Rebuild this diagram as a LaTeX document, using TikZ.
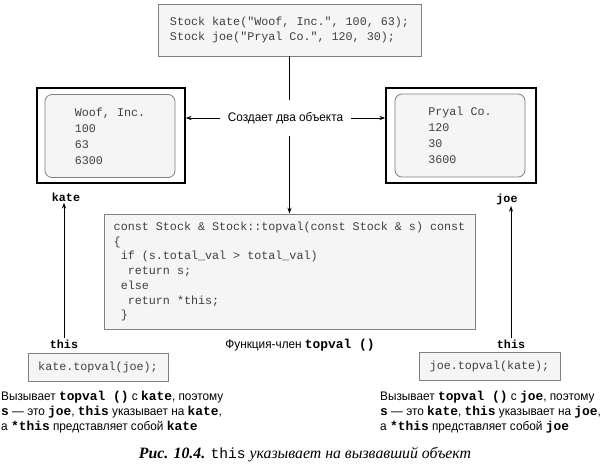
\documentclass[tikz,border=0pt]{standalone}
\usepackage{fontspec}
\setmonofont{Liberation Mono}
\newfontfamily\rusfont[FakeStretch=0.95]{Liberation Sans}
\newfontfamily\capfont{Liberation Serif}
\usetikzlibrary{positioning}
\usetikzlibrary{arrows.meta}

\newcommand{\kw}[1]{{\ttfamily\bfseries\fontsize{11}{12.8}\selectfont #1}}
\newcommand{\codesp}{\hphantom{x}}

\begin{document}
\begin{tikzpicture}[x=0.03cm, y=-0.03cm,
  codebox/.style={draw=black!50, fill=black!4, line width=0.7pt, inner sep=0pt,
    font=\ttfamily\fontsize{10}{12.6}\selectfont, text=black!75, align=left},
  objframe/.style={draw=black, line width=1.2pt, inner sep=0pt},
  valbox/.style={draw=black!50, fill=black!4, rounded corners=6pt, line width=0.7pt,
    inner sep=0pt, font=\ttfamily\fontsize{10}{13.6}\selectfont, text=black!75, align=left},
  varname/.style={font=\ttfamily\bfseries\fontsize{10}{12}\selectfont, inner sep=1pt},
  note/.style={font=\rusfont\fontsize{10.6}{12.8}\selectfont, align=left, inner sep=0pt},
  link/.style={line width=0.8pt},
  ptr/.style={line width=0.8pt, -{Stealth[length=5pt, width=3.5pt]}}]

\useasboundingbox (0,0) rectangle (611,473);

% declarations
\node[codebox, minimum width=7.89cm, minimum height=1.56cm] (decl) at (289.5,30)
  {Stock kate("Woof, Inc.", 100, 63);\\Stock joe("Pryal Co.", 120, 30);};

% the two objects
\node[objframe, minimum width=4.44cm, minimum height=2.85cm] (kateobj) at (111,135.5) {};
\node[valbox, minimum width=3.9cm, minimum height=2.49cm] (kateval) at (110,136)
  {Woof, Inc.\\100\\63\\6300};
\node[varname] (katename) at (66,197) {kate};

\node[objframe, minimum width=4.5cm, minimum height=2.85cm] (joeobj) at (461,135.5) {};
\node[valbox, minimum width=3.9cm, minimum height=2.49cm] (joeval) at (460,135.5)
  {Pryal Co.\\120\\30\\3600};
\node[varname] (joename) at (507,199) {joe};

\node[note, inner xsep=0.24cm, minimum height=1.08cm] (create) at (285.5,118)
  {Создает два объекта};

% member function
\node[codebox, minimum width=11.13cm, minimum height=3.45cm] (func) at (289.5,271.5)
  {const Stock \& Stock::topval(const Stock \& s) const\\
   \{\\
   \codesp if (s.total\_val > total\_val)\\
   \codesp\codesp return s;\\
   \codesp else\\
   \codesp\codesp return *this;\\
   \codesp\}};
\node[note] (funcname) at (300,345) {Функция-член \kw{topval ()}};

% calls
\node[varname] (thisL) at (64,344) {this};
\node[varname] (thisR) at (511,344) {this};
\node[codebox, minimum width=4.2cm, minimum height=0.84cm] (callL) at (98,367) {kate.topval(joe);};
\node[codebox, minimum width=4.23cm, minimum height=0.84cm] (callR) at (489.5,366) {joe.topval(kate);};

\node[note, anchor=west] (descL) at (1,412)
  {Вызывает \kw{topval ()} с \kw{kate}, поэтому\\
   \kw{s} — это \kw{joe}, \kw{this} указывает на \kw{kate},\\
   а \kw{*this} представляет собой \kw{kate}};
\node[note, anchor=west] (descR) at (380,412)
  {Вызывает \kw{topval ()} с \kw{joe}, поэтому\\
   \kw{s} — это \kw{kate}, \kw{this} указывает на \kw{joe},\\
   а \kw{*this} представляет собой \kw{joe}};

% connectors
\draw[link] (decl) -- (decl |- create.north);
\draw[ptr] (decl |- create.south) -- (func);
\draw[ptr] (create.west) -- (create.west -| kateobj.east);
\draw[ptr] (create.east) -- (create.east -| joeobj.west);
\draw[ptr] (thisL) -- (thisL |- katename.south);
\draw[ptr] (thisR) -- (thisR |- joename.south);

% caption
\node[inner sep=0pt] (caption) at (305,455)
  {\capfont\fontsize{13.5}{15}\selectfont{\itshape\bfseries Рис. 10.4.} {\ttfamily\fontsize{12.5}{15}\selectfont this} {\itshape указывает на вызвавший объект}};

\end{tikzpicture}
\end{document}
